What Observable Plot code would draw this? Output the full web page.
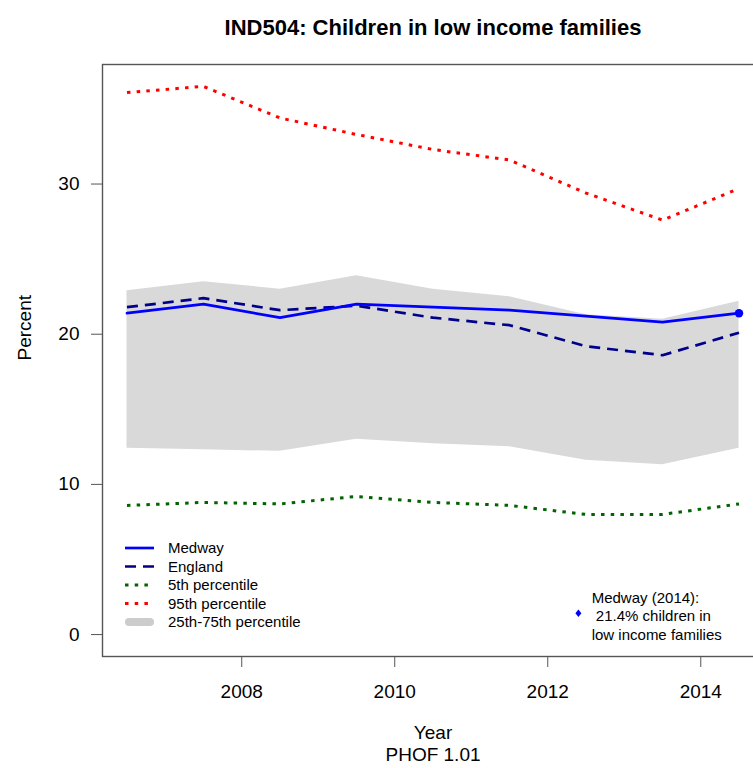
<!DOCTYPE html>
<html>
<head>
<meta charset="utf-8">
<script src="https://cdn.jsdelivr.net/npm/d3@7"></script>
<script src="https://cdn.jsdelivr.net/npm/@observablehq/plot@0.6"></script>
<style>
  html, body { margin: 0; padding: 0; background: #fff; overflow: hidden; }
</style>
</head>
<body>
<div id="chart"></div>
<script>
// Financial years, plotted at the middle of each year
const years = [2006.5, 2007.5, 2008.5, 2009.5, 2010.5, 2011.5, 2012.5, 2013.5, 2014.5];

// Percentage of children in low income families
const medway  = [21.4, 22.0, 21.1, 22.0, 21.8, 21.6, 21.2, 20.8, 21.4];
const england = [21.8, 22.4, 21.6, 21.9, 21.1, 20.6, 19.2, 18.6, 20.1];
const p5      = [8.6, 8.8, 8.7, 9.2, 8.8, 8.6, 8.0, 8.0, 8.7];
const p95     = [36.1, 36.5, 34.4, 33.3, 32.3, 31.6, 29.4, 27.6, 29.7];
const p25     = [12.4, 12.3, 12.2, 13.0, 12.7, 12.5, 11.6, 11.3, 12.4];
const p75     = [22.9, 23.5, 23.0, 23.9, 23.0, 22.5, 21.3, 21.0, 22.2];

const xTicks = [2008, 2010, 2012, 2014];
const yTicks = [0, 10, 20, 30];

const title = "IND504: Children in low income families";
const xLabel = "Year";
const source = "PHOF 1.01";
const yLabel = "Percent";
const areaName = "Medway";
const latestYear = "2014";
const legendLabels = ["Medway", "England", "5th percentile", "95th percentile", "25th-75th percentile"];

const FONT = "'Liberation Sans', Arial, Helvetica, sans-serif";
const C_MEDWAY = "#0000ff", C_ENGLAND = "#00008b", C_P5 = "#006400", C_P95 = "#ff0000", C_BAND = "#d9d9d9";
const DASH = "11,7", DOT = "3.5,6.2";

const rows = years.map((year, i) => ({
  year, medway: medway[i], england: england[i], p5: p5[i], p95: p95[i], p25: p25[i], p75: p75[i]
}));

const legendStyles = [
  {stroke: C_MEDWAY, width: 2.7, dash: null},
  {stroke: C_ENGLAND, width: 2.7, dash: DASH},
  {stroke: C_P5, width: 3, dash: DOT},
  {stroke: C_P95, width: 3, dash: DOT},
  {stroke: "#cccccc", width: 8, dash: null, band: true}
];

// Key in the lower-left corner and the latest-value note in the lower-right
function keyAndNote(index, scales, values, dimensions) {
  const {width, height, marginLeft, marginRight, marginBottom} = dimensions;
  const left = marginLeft, bottom = height - marginBottom, right = width - marginRight;
  const g = d3.create("svg:g")
    .attr("font-family", FONT).attr("font-size", 15).attr("fill", "#000")
    .attr("text-anchor", "start");
  const n = legendLabels.length;
  legendLabels.forEach((label, i) => {
    const s = legendStyles[i];
    const cy = bottom - 34 - (n - 1 - i) * 18.5;
    const line = g.append("line")
      .attr("x1", left + (s.band ? 27 : 23)).attr("x2", left + (s.band ? 48 : 52))
      .attr("y1", cy).attr("y2", cy)
      .attr("stroke", s.stroke).attr("stroke-width", s.width)
      .attr("stroke-linecap", s.band ? "round" : "butt");
    if (s.dash) line.attr("stroke-dasharray", s.dash);
    g.append("text").attr("x", left + 66).attr("y", cy).attr("dy", "0.35em").text(label);
  });
  const latest = medway[medway.length - 1];
  const noteLines = [`${areaName} (${latestYear}):`, `\u00a0${latest.toFixed(1)}% children in`, "low income families"];
  const tx = right - 171.3;
  noteLines.forEach((t, i) => {
    g.append("text").attr("x", tx).attr("y", bottom - 58.5 + i * 18.5).attr("dy", "0.35em").text(t);
  });
  const dx = right - 184.6, dy = bottom - 42.7;
  g.append("path")
    .attr("d", `M${dx},${dy - 3.8}L${dx + 3},${dy}L${dx},${dy + 3.8}L${dx - 3},${dy}Z`)
    .attr("fill", C_MEDWAY);
  return g.node();
}

const chart = Plot.plot({
  width: 753,
  height: 768,
  marginLeft: 102,
  marginRight: -10,
  marginTop: 64,
  marginBottom: 112,
  style: {fontFamily: FONT, fontSize: "19px", color: "#000", background: "#fff", overflow: "hidden"},
  x: {domain: [2006.18, 2014.82]},
  y: {domain: [-1.46, 37.96]},
  marks: [
    Plot.areaY(rows, {x: "year", y1: "p25", y2: "p75", fill: C_BAND}),
    Plot.line(rows, {x: "year", y: "p95", stroke: C_P95, strokeWidth: 3, strokeDasharray: DOT, strokeLinecap: "butt"}),
    Plot.line(rows, {x: "year", y: "p5", stroke: C_P5, strokeWidth: 3, strokeDasharray: DOT, strokeLinecap: "butt"}),
    Plot.line(rows, {x: "year", y: "england", stroke: C_ENGLAND, strokeWidth: 2.7, strokeDasharray: DASH, strokeLinecap: "butt"}),
    Plot.line(rows, {x: "year", y: "medway", stroke: C_MEDWAY, strokeWidth: 2.7}),
    Plot.dot(rows.slice(-1), {x: "year", y: "medway", r: 4.2, fill: C_MEDWAY}),
    Plot.axisX({ticks: xTicks, tickFormat: d => String(d), tickSize: 11, tickPadding: 17, stroke: "#555", fill: "#000", fontSize: 19, label: null}),
    Plot.axisY({ticks: yTicks, tickSize: 11, tickPadding: 12, stroke: "#555", fill: "#000", fontSize: 19, label: null}),
    Plot.frame({stroke: "#555", strokeWidth: 1.4}),
    keyAndNote,
    Plot.text([title], {text: d => d, frameAnchor: "top", dy: -45, fontWeight: "bold", fontSize: 22}),
    Plot.text([xLabel], {text: d => d, frameAnchor: "bottom", dy: 82.4, fontSize: 19}),
    Plot.text([source], {text: d => d, frameAnchor: "bottom", dy: 104, fontSize: 19}),
    Plot.text([yLabel], {text: d => d, frameAnchor: "left", dx: -78, rotate: -90, fontSize: 19})
  ]
});

document.getElementById("chart").appendChild(chart);
</script>
</body>
</html>
